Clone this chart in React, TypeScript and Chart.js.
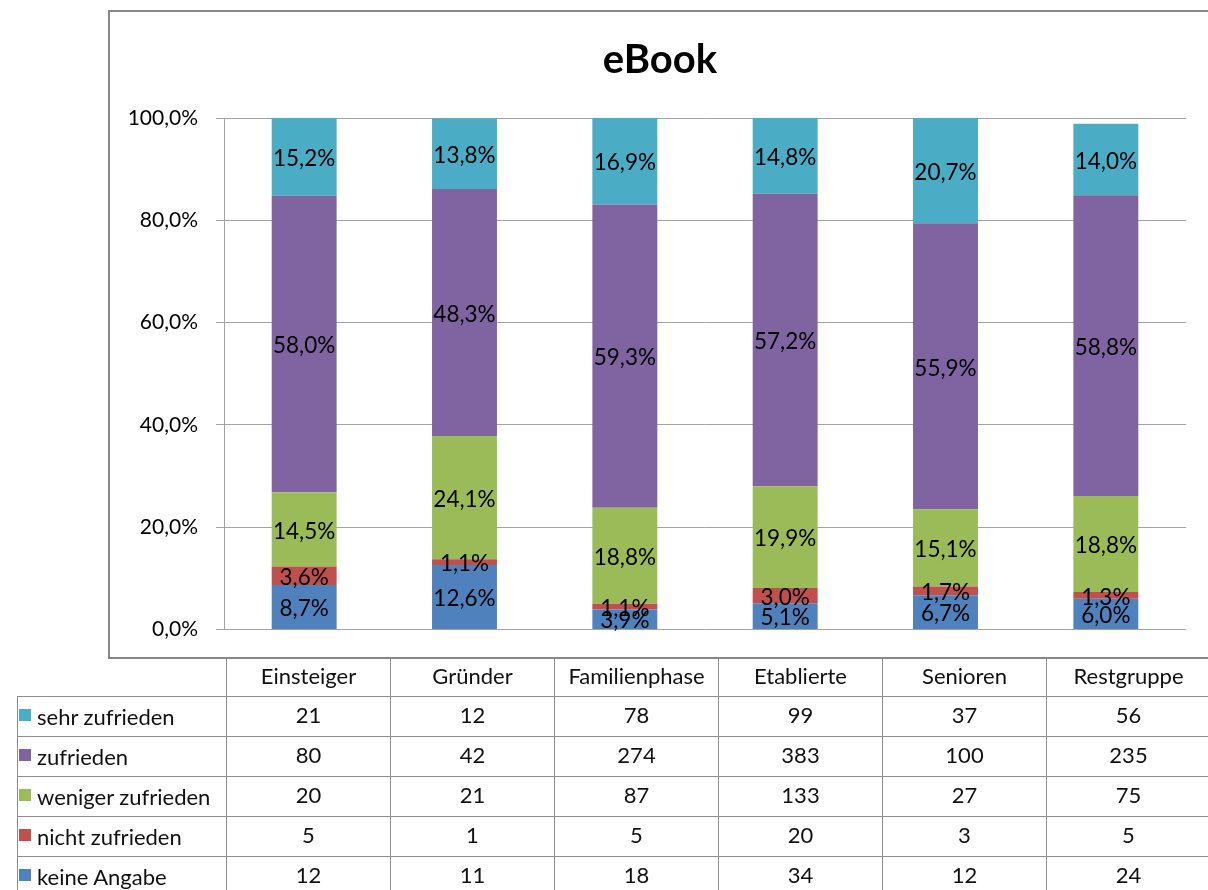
import React, { useEffect, useRef } from "react";
import { Chart, registerables } from "chart.js";

Chart.register(...registerables);

const FONT = "Lato, 'Open Sans', sans-serif";

const categories = ["Einsteiger", "Gründer", "Familienphase", "Etablierte", "Senioren", "Restgruppe"];

// Series names, top of the stack first (table order)
const seriesNames = ["sehr zufrieden", "zufrieden", "weniger zufrieden", "nicht zufrieden", "keine Angabe"];
const seriesColors = ["#4BACC6", "#8064A2", "#9BBB59", "#C0504D", "#4F81BD"];

// Shares per group, in percent
const sehrZufriedenPct = [15.2, 13.8, 16.9, 14.8, 20.7, 14.0];
const zufriedenPct = [58.0, 48.3, 59.3, 57.2, 55.9, 58.8];
const wenigerZufriedenPct = [14.5, 24.1, 18.8, 19.9, 15.1, 18.8];
const nichtZufriedenPct = [3.6, 1.1, 1.1, 3.0, 1.7, 1.3];
const keineAngabePct = [8.7, 12.6, 3.9, 5.1, 6.7, 6.0];

// Absolute answer counts per group
const sehrZufriedenN = [21, 12, 78, 99, 37, 56];
const zufriedenN = [80, 42, 274, 383, 100, 235];
const wenigerZufriedenN = [20, 21, 87, 133, 27, 75];
const nichtZufriedenN = [5, 1, 5, 20, 3, 5];
const keineAngabeN = [12, 11, 18, 34, 12, 24];

const yMin = 0;
const yMax = 100;
const yStep = 20;

const pctSeries = [sehrZufriedenPct, zufriedenPct, wenigerZufriedenPct, nichtZufriedenPct, keineAngabePct];
const countSeries = [sehrZufriedenN, zufriedenN, wenigerZufriedenN, nichtZufriedenN, keineAngabeN];

const fmtPct = (v: number) => v.toFixed(1).replace(".", ",") + "%";

// Writes each segment's share in the middle of the segment
const segmentLabels = {
  id: "segmentLabels",
  afterDatasetsDraw(chart: any) {
    const ctx = chart.ctx;
    ctx.save();
    ctx.font = `22.5px ${FONT}`;
    ctx.fillStyle = "#000";
    ctx.textAlign = "center";
    ctx.textBaseline = "middle";
    chart.data.datasets.forEach((ds: any, i: number) => {
      const meta = chart.getDatasetMeta(i);
      meta.data.forEach((bar: any, j: number) => {
        const { x, y, base } = bar.getProps(["x", "y", "base"], true);
        ctx.fillText(fmtPct(ds.data[j]), x, (y + base) / 2 + 2);
      });
    });
    ctx.restore();
  },
};

const LINE = "1px solid #8e8e8e";

export default function App() {
  const ref = useRef<HTMLCanvasElement>(null);

  useEffect(() => {
    // stack from the bottom: reverse of the table order
    const order = [4, 3, 2, 1, 0];
    const chart = new Chart(ref.current!, {
      type: "bar",
      data: {
        labels: categories,
        datasets: order.map((k) => ({
          label: seriesNames[k],
          data: pctSeries[k],
          backgroundColor: seriesColors[k],
          borderWidth: 0,
          categoryPercentage: 1,
          barPercentage: 0.405,
        })),
      },
      options: {
        responsive: false,
        animation: false,
        layout: { padding: { left: 120, right: 8, top: 0, bottom: 0 } },
        plugins: {
          legend: { display: false },
          tooltip: { enabled: false },
          title: {
            display: true,
            text: "eBook",
            color: "#000",
            font: { family: FONT, size: 40, weight: "bold", lineHeight: 1.2 },
            padding: { top: 36, bottom: 34 },
          },
        },
        scales: {
          x: {
            stacked: true,
            grid: { display: false },
            border: { display: false },
            ticks: { display: false },
            afterFit: (s: any) => {
              s.height = 30;
            },
          },
          y: {
            stacked: true,
            min: yMin,
            max: yMax,
            ticks: {
              stepSize: yStep,
              padding: 18,
              color: "#000",
              font: { family: FONT, size: 21 },
              callback: (v: any) => fmtPct(Number(v)),
            },
            grid: { color: "#a3a3a3", lineWidth: 1, tickLength: 8 },
            border: { display: true, color: "#a3a3a3" },
            afterFit: (s: any) => {
              s.width = 104;
            },
          },
          // blank right-hand margin inside the frame
          yRight: {
            position: "right",
            min: yMin,
            max: yMax,
            grid: { display: false },
            border: { display: false },
            ticks: { display: false },
            afterFit: (s: any) => {
              s.width = 14;
            },
          },
        },
      },
      plugins: [segmentLabels],
    });
    return () => chart.destroy();
  }, []);

  return (
    <div
      style={{
        position: "fixed",
        left: 0,
        top: 0,
        width: 1208,
        height: 890,
        overflow: "hidden",
        background: "#fff",
        fontFamily: FONT,
      }}
    >
      <canvas
        ref={ref}
        width={1208}
        height={660}
        style={{ position: "absolute", left: 0, top: 0, width: 1208, height: 660 }}
      />
      <div
        style={{
          position: "absolute",
          left: 108,
          top: 10,
          width: 1200,
          height: 649,
          border: "2px solid #878787",
          boxSizing: "border-box",
          pointerEvents: "none",
        }}
      />
      <table
        style={{
          position: "absolute",
          left: 17,
          top: 658,
          borderCollapse: "collapse",
          tableLayout: "fixed",
          width: 1193,
          fontSize: 22,
          color: "#111",
          fontFamily: FONT,
        }}
      >
        <colgroup>
          <col style={{ width: 209 }} />
          {categories.map((c) => (
            <col key={c} style={{ width: 164 }} />
          ))}
        </colgroup>
        <tbody>
          <tr style={{ height: 38 }}>
            <td style={{ borderRight: LINE, borderBottom: LINE, padding: 0 }} />
            {categories.map((c) => (
              <td
                key={c}
                style={{
                  borderLeft: LINE,
                  borderRight: LINE,
                  borderBottom: LINE,
                  textAlign: "center",
                  padding: "0 0 3px 0",
                }}
              >
                {c}
              </td>
            ))}
          </tr>
          {seriesNames.map((name, i) => (
            <tr key={name} style={{ height: 40 }}>
              <td style={{ border: LINE, padding: "0 0 3px 0", whiteSpace: "nowrap" }}>
                <span
                  style={{
                    display: "inline-block",
                    width: 12,
                    height: 12,
                    background: seriesColors[i],
                    marginLeft: 1,
                    marginRight: 6,
                    verticalAlign: "middle",
                    position: "relative",
                    top: -1,
                  }}
                />
                <span style={{ verticalAlign: "middle" }}>{name}</span>
              </td>
              {countSeries[i].map((n, j) => (
                <td key={j} style={{ border: LINE, textAlign: "center", padding: "0 0 3px 0" }}>
                  {n}
                </td>
              ))}
            </tr>
          ))}
        </tbody>
      </table>
    </div>
  );
}
